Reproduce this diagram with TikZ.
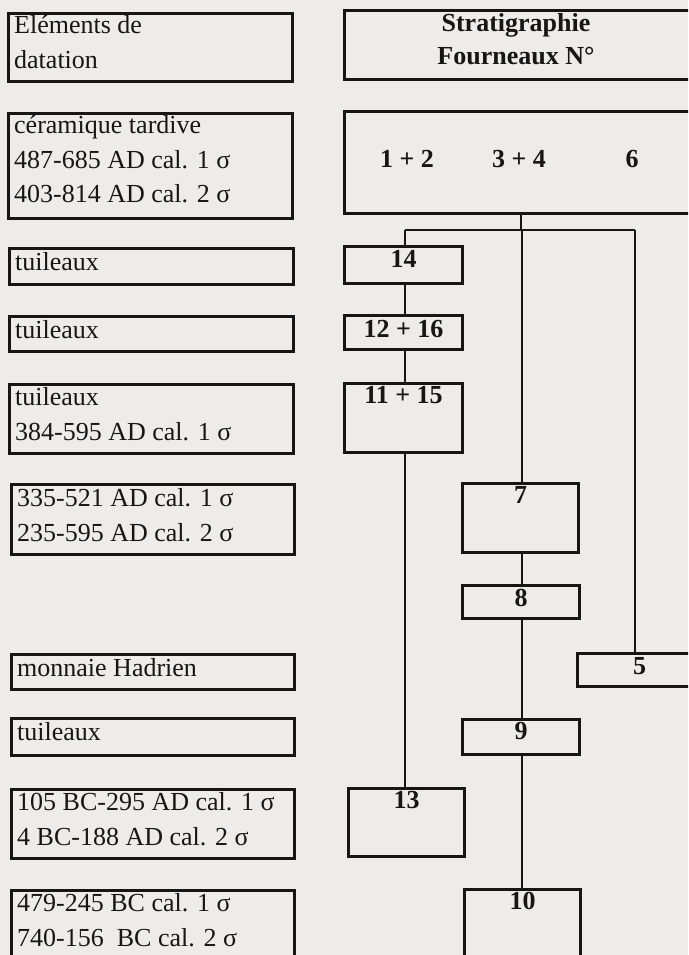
\documentclass[tikz,border=0pt]{standalone}
\usepackage{fontspec}
\setmainfont{Liberation Serif}
\definecolor{bgc}{HTML}{EDECEA}
\definecolor{ink}{HTML}{161616}
\tikzset{
  box/.style={draw=ink, line width=3pt, rectangle, inner sep=0pt, anchor=north west},
  conn/.style={draw=ink, line width=2.6pt},
  txt/.style={text=ink, inner sep=0pt, font=\fontsize{26}{35}\selectfont},
  num/.style={text=ink, inner sep=0pt, font=\fontsize{26}{33}\selectfont\bfseries}
}
\newcommand{\lines}[1]{\begin{tabular}[t]{@{}l@{}}#1\end{tabular}}
\newcommand{\clines}[1]{\begin{tabular}[t]{@{}c@{}}#1\end{tabular}}
\begin{document}
\begin{tikzpicture}[x=1pt,y=-1pt]
\useasboundingbox (0,0) rectangle (688,955);
\fill[bgc] (0,0) rectangle (688,955);
\clip (0,0) rectangle (688,955);

% ---------- left column: dating elements ----------
\node[box, minimum width=284, minimum height=68] (L1) at (7,12) {};
\node[txt, anchor=base west] (L1t) at ([shift={(7,22)}]L1.north west) {\lines{Eléments de\\datation}};

\node[box, minimum width=284, minimum height=105] (L2) at (7,112) {};
\node[txt, anchor=base west] (L2t) at ([shift={(7,21)}]L2.north west) {\lines{céramique tardive\\487-685 AD cal. 1 σ\\403-814 AD cal. 2 σ}};

\node[box, minimum width=284, minimum height=36] (L3) at (8,247) {};
\node[txt, anchor=base west] (L3t) at ([shift={(7,23)}]L3.north west) {tuileaux};

\node[box, minimum width=284, minimum height=35] (L4) at (8,315) {};
\node[txt, anchor=base west] (L4t) at ([shift={(7,23)}]L4.north west) {tuileaux};

\node[box, minimum width=284, minimum height=69] (L5) at (8,383) {};
\node[txt, anchor=base west] (L5t) at ([shift={(7,22)}]L5.north west) {\lines{tuileaux\\384-595 AD cal. 1 σ}};

\node[box, minimum width=283, minimum height=70] (L6) at (10,483) {};
\node[txt, anchor=base west] (L6t) at ([shift={(7,23)}]L6.north west) {\lines{335-521 AD cal. 1 σ\\235-595 AD cal. 2 σ}};

\node[box, minimum width=283, minimum height=35] (L7) at (10,653) {};
\node[txt, anchor=base west] (L7t) at ([shift={(7,23)}]L7.north west) {monnaie Hadrien};

\node[box, minimum width=283, minimum height=37] (L8) at (10,717) {};
\node[txt, anchor=base west] (L8t) at ([shift={(7,23)}]L8.north west) {tuileaux};

\node[box, minimum width=283, minimum height=69] (L9) at (10,788) {};
\node[txt, anchor=base west] (L9t) at ([shift={(7,22)}]L9.north west) {\lines{105 BC-295 AD cal. 1 σ\\4 BC-188 AD cal. 2 σ}};

\node[box, minimum width=283, minimum height=100] (L10) at (10,889) {};
\node[txt, anchor=base west] (L10t) at ([shift={(7,22)}]L10.north west) {\lines{479-245 BC cal. 1 σ\\740-156\ \ BC cal. 2 σ}};

% ---------- right column: stratigraphy ----------
\node[box, minimum width=357, minimum height=69] (S) at (343,9) {};
\node[num, anchor=base] (St) at (516,32) {\clines{Stratigraphie\\Fourneaux N°}};

\node[box, minimum width=357, minimum height=102] (F) at (343,110) {};
\node[num, anchor=base] (F12) at (407,167) {1 + 2};
\node[num, anchor=base] (F34) at (519,167) {3 + 4};
\node[num, anchor=base] (F6) at (632,167) {6};

\node[box, minimum width=118, minimum height=37] (B14) at (343,245) {};
\node[num, anchor=base] (B14t) at ([shift={(0,22)}]B14.north) {14};

\node[box, minimum width=118, minimum height=34] (B1216) at (343,314) {};
\node[num, anchor=base] (B1216t) at ([shift={(0,23)}]B1216.north) {12 + 16};

\node[box, minimum width=118, minimum height=69] (B1115) at (343,382) {};
\node[num, anchor=base] (B1115t) at ([shift={(0,21)}]B1115.north) {11 + 15};

\node[box, minimum width=116, minimum height=68] (B13) at (347,787) {};
\node[num, anchor=base] (B13t) at ([shift={(0,21)}]B13.north) {13};

\node[box, minimum width=116, minimum height=69] (B7) at (461,482) {};
\node[num, anchor=base] (B7t) at ([shift={(0,21)}]B7.north) {7};

\node[box, minimum width=117, minimum height=33] (B8) at (461,584) {};
\node[num, anchor=base] (B8t) at ([shift={(0,22)}]B8.north) {8};

\node[box, minimum width=117, minimum height=35] (B9) at (461,718) {};
\node[num, anchor=base] (B9t) at ([shift={(0,21)}]B9.north) {9};

\node[box, minimum width=116, minimum height=100] (B10) at (463,888) {};
\node[num, anchor=base] (B10t) at ([shift={(0,21)}]B10.north) {10};

\node[box, minimum width=124, minimum height=33] (B5) at (576,652) {};
\node[num, anchor=base] (B5t) at ([shift={(0,22)}]B5.north) {5};

% ---------- connectors ----------
\coordinate (J) at (521,230);
\coordinate (XL) at (405,230);
\coordinate (XM) at (522,230);
\coordinate (XR) at (635,230);

\draw[conn] (F.south -| J) -- (J);
\draw[conn] (XL) -- (XR);
% left branch
\draw[conn] (XL) -- (B14.north -| XL);
\draw[conn] (B14.south -| XL) -- (B1216.north -| XL);
\draw[conn] (B1216.south -| XL) -- (B1115.north -| XL);
\draw[conn] (B1115.south -| XL) -- (B13.north -| XL);
% middle branch
\draw[conn] (XM) -- (B7.north -| XM);
\draw[conn] (B7.south -| XM) -- (B8.north -| XM);
\draw[conn] (B8.south -| XM) -- (B9.north -| XM);
\draw[conn] (B9.south -| XM) -- (B10.north -| XM);
% right branch
\draw[conn] (XR) -- (B5.north -| XR);
\end{tikzpicture}
\end{document}
